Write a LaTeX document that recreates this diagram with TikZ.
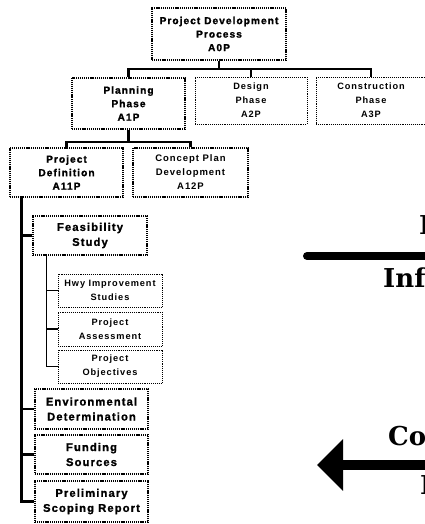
\documentclass[tikz,border=0pt]{standalone}
\usepackage{fontspec}
\setmainfont{Liberation Sans}
\newfontfamily\lblfont[LetterSpace=10]{Liberation Sans}
\newfontfamily\heavyfont[LetterSpace=10,FakeBold=1.2]{Liberation Sans}
\newfontfamily\flowfont{DejaVu Serif}
\usetikzlibrary{arrows.meta}
\begin{document}
\begin{tikzpicture}[x=1pt,y=-1pt,
  every node/.style={inner sep=0pt, align=center, text=black},
  heavybox/.style={draw, line width=2.6pt, dash pattern=on 1.1pt off 0.8pt},
  lightbox/.style={draw, line width=0.9pt, dash pattern=on 1pt off 0.9pt},
  topfont/.style={font=\heavyfont\bfseries\fontsize{10.2}{13.5}\selectfont},
  lowfont/.style={font=\heavyfont\bfseries\fontsize{11.2}{15}\selectfont},
  smallfont/.style={font=\lblfont\bfseries\fontsize{9.2}{14}\selectfont},
  conn/.style={line width=2.4pt},
  spine/.style={line width=3pt},
  thinconn/.style={line width=1.2pt},
  flow/.style={font=\flowfont\bfseries\fontsize{26}{30}\selectfont, anchor=base west}]
\useasboundingbox (0,0) rectangle (425,524);
\clip (0,0) rectangle (425,524);

% process tree
\node[heavybox, topfont, minimum width=134pt, minimum height=52pt] (a0p) at (219,34)
  {Project Development\\Process\\A0P};
\node[heavybox, topfont, minimum width=113pt, minimum height=51pt] (a1p) at (128.5,103.5)
  {Planning\\Phase\\A1P};
\node[lightbox, smallfont, minimum width=112pt, minimum height=47pt] (a2p) at (251,100.5)
  {Design\\Phase\\A2P};
\node[lightbox, smallfont, minimum width=110pt, minimum height=47pt] (a3p) at (371,100.5)
  {Construction\\Phase\\A3P};
\node[heavybox, topfont, minimum width=113pt, minimum height=49pt] (a11p) at (66.5,172.5)
  {Project\\Definition\\A11P};
\node[heavybox, font=\lblfont\bfseries\fontsize{9.5}{14}\selectfont,
  minimum width=115pt, minimum height=49pt] (a12p) at (190.5,172.5)
  {Concept Plan\\Development\\A12P};

\node[heavybox, lowfont, minimum width=114pt, minimum height=39pt] (fs) at (90,235.5)
  {Feasibility\\Study};
\node[lightbox, smallfont, minimum width=104pt, minimum height=33pt] (hwy) at (110,290.5)
  {Hwy Improvement\\Studies};
\node[lightbox, smallfont, minimum width=104pt, minimum height=34pt] (pa) at (110,329)
  {Project\\Assessment};
\node[lightbox, smallfont, minimum width=104pt, minimum height=33pt] (po) at (110,366.5)
  {Project\\Objectives};
\node[heavybox, lowfont, minimum width=113pt, minimum height=40pt] (ed) at (91.5,409)
  {Environmental\\Determination};
\node[heavybox, lowfont, minimum width=113pt, minimum height=39pt] (fsrc) at (91.5,454.5)
  {Funding\\Sources};
\node[heavybox, lowfont, minimum width=113pt, minimum height=41pt] (psr) at (91.5,501.5)
  {Preliminary\\Scoping Report};

% connectors
\coordinate (bar1) at (0,69);
\coordinate (bar2) at (0,142);
\draw[conn] (a0p.south) -- (a0p.south |- bar1);
\draw[conn] (a1p.north) |- (a3p.north |- bar1) -- (a3p.north);
\draw[conn] (a2p.north) -- (a2p.north |- bar1);
\draw[conn] (a1p.south) -- (a1p.south |- bar2);
\draw[conn] (a11p.north) |- (a12p.north |- bar2) -- (a12p.north);

\coordinate (sp) at ([xshift=13pt]a11p.south west);
\draw[spine] (sp) |- (psr.west);
\draw[conn] (sp |- fs.west) -- (fs.west);
\draw[conn] (sp |- ed.west) -- (ed.west);
\draw[conn] (sp |- fsrc.west) -- (fsrc.west);

\coordinate (fsb) at ([xshift=15pt]fs.south west);
\draw[thinconn] (fsb) |- (po.west);
\draw[thinconn] (fsb |- hwy.west) -- (hwy.west);
\draw[thinconn] (fsb |- pa.west) -- (pa.west);

% information flows running off to the right
\coordinate (infl) at (307,256);
\coordinate (infr) at (445,256);
\draw[line width=8pt, line cap=round] (infl) -- (infr);
\node[flow] (pin) at (419,234) {Project};
\node[flow] (inf) at (383,287) {Information};

\coordinate (ctip) at (317,465);
\coordinate (cend) at (445,465);
\draw[line width=10pt, -{Triangle[length=26pt,width=50pt]}] (cend) -- (ctip);
\node[flow] (con) at (388,445) {Concept};
\node[flow] (cin) at (420,494) {Information};
\end{tikzpicture}
\end{document}
